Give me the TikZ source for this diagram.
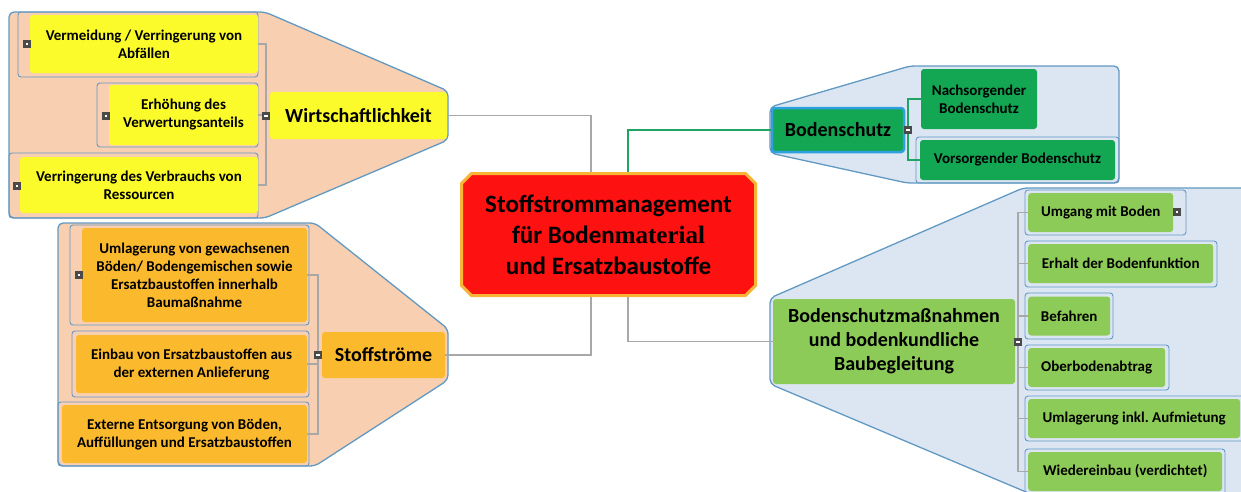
\documentclass[tikz,border=0pt]{standalone}
\usepackage{fontspec}
\setmainfont{Carlito}
\newfontfamily\cambria{Liberation Serif}
\usetikzlibrary{shapes.misc}

\definecolor{peach}{HTML}{F9CFB2}
\definecolor{paleblue}{HTML}{DCE6F2}
\definecolor{outline}{HTML}{6299C2}
\definecolor{boxyellow}{HTML}{FBFB2C}
\definecolor{boxorange}{HTML}{FBB92E}
\definecolor{darkgreen}{HTML}{13A653}
\definecolor{lightgreen}{HTML}{8CCB57}
\definecolor{rootred}{HTML}{FE1111}
\definecolor{rootrim}{HTML}{F8B535}
\definecolor{linkgray}{HTML}{A8A8A8}
\definecolor{linkgreen}{HTML}{1FA463}
\definecolor{markgray}{HTML}{4A4A4A}
\definecolor{rimblue}{HTML}{2E9FE0}

\begin{document}
\frenchspacing
\begin{tikzpicture}[x=1pt,y=-1pt,
  group/.style={fill=#1, draw=outline, line width=1.3pt, rounded corners=5pt},
  frame/.style={draw=outline, line width=0.9pt, rounded corners=3pt},
  size/.style 2 args={minimum width=#1, minimum height=#2},
  box/.style={rounded corners=3pt, inner sep=0pt, align=center,
    font=\bfseries\fontsize{15}{18}\selectfont},
  topic/.style={box, font=\bfseries\fontsize{20}{24}\selectfont},
  item/.style={box, fill=lightgreen, anchor=west, size={#1}{39pt}},
  link/.style={draw=linkgray, line width=1.4pt},
  marker/.style={rectangle, fill=markgray, minimum size=8pt, inner sep=0pt},
  plus/.style={marker, path picture={\fill[white]
    ([shift={(-1.4pt,-1.4pt)}]path picture bounding box.center) rectangle
    ([shift={(1.4pt,1.4pt)}]path picture bounding box.center);}},
  minus/.style={marker, path picture={\fill[white]
    ([shift={(-1.8pt,-0.7pt)}]path picture bounding box.center) rectangle
    ([shift={(1.8pt,0.7pt)}]path picture bounding box.center);}},
]

  \useasboundingbox (0,0) rectangle (1241,491);
  \clip (0,0) rectangle (1241,491);

  % Draw groups
  \draw[group=peach] (9,12) -- (265,12) -- (448,91) -- (448,140) -- (265,218) -- (9,218) -- cycle;
  \draw[group=peach] (58,223) -- (315,223) -- (448,329) -- (448,380) -- (315,466) -- (58,466) -- cycle;
  \draw[group=paleblue] (770,107) -- (910,66) -- (1119,66) -- (1119,183) -- (907,183) -- (770,153) -- cycle;
  \draw[group=paleblue] (770,298) -- (1023,188) -- (1250,188) -- (1250,500) -- (1045,500) -- (770,384) -- cycle;

  % Draw frames
  \draw[frame] (18,12) rectangle (258,77);
  \draw[frame] (97,83) rectangle (258,147);
  \draw[frame] (9,153) rectangle (258,218);
  \draw[frame] (70,225) rectangle (309,325);
  \draw[frame] (72,331) rectangle (309,397);
  \draw[frame] (58,402) rectangle (309,466);
  \draw[frame] (916,137) rectangle (1119,183);
  \draw[frame] (1025,190) rectangle (1186,235);
  \draw[frame] (1025,241) rectangle (1217,287);
  \draw[frame] (1025,293) rectangle (1113,339);
  \draw[frame] (1025,345) rectangle (1169,390);
  \draw[frame] (1025,396) rectangle (1250,441);
  \draw[frame] (1025,449) rectangle (1225,500);

  % Root
  \node[chamfered rectangle, chamfered rectangle xsep=5pt, chamfered rectangle ysep=5pt,
    fill=rootred, draw=rootrim, line width=3pt, size={294pt}{122pt}, inner sep=0pt,
    align=center, font=\bfseries\fontsize{25}{31}\selectfont] (root) at (608.5,234.5)
    {Stoffstrommanagement\\für Boden{\cambria material}\\und Ersatzbaustoffe};

  % Wirtschaftlichkeit
  \node[topic, fill=boxyellow, size={177pt}{47pt}] (wirt) at (358.5,115.5) {Wirtschaftlichkeit};
  \node[box, fill=boxyellow, size={228pt}{58pt}] (w1) at (144,44) {Vermeidung / Verringerung von\\Abfällen};
  \node[box, fill=boxyellow, size={149pt}{60pt}] (w2) at (183.5,115) {Erhöhung des\\Verwertungsanteils};
  \node[box, fill=boxyellow, size={238pt}{56pt}] (w3) at (139,185) {Verringerung des Verbrauchs von\\Ressourcen};

  % Stoffstroeme
  \node[topic, fill=boxorange, size={123pt}{46pt}] (stoff) at (383.5,355) {Stoffströme};
  \node[box, fill=boxorange, size={225pt}{94pt}] (s1) at (194.5,275)
    {Umlagerung von gewachsenen\\Böden/ Bodengemischen sowie\\Ersatzbaustoffen innerhalb\\Baumaßnahme};
  \node[box, fill=boxorange, size={231pt}{58pt}] (s2) at (191.5,364) {Einbau von Ersatzbaustoffen aus\\der externen Anlieferung};
  \node[box, fill=boxorange, size={245pt}{58pt}] (s3) at (184.5,434) {Externe Entsorgung von Böden,\\Auffüllungen und Ersatzbaustoffen};

  % Bodenschutz
  \node[topic, fill=darkgreen, draw=rimblue, line width=2.5pt, size={132pt}{44pt}] (boden) at (838,130) {Bodenschutz};
  \node[box, fill=darkgreen, size={116pt}{60pt}] (b1) at (979,99) {Nachsorgender\\Bodenschutz};
  \node[box, fill=darkgreen, size={195pt}{40pt}] (b2) at (1017.5,160) {Vorsorgender Bodenschutz};

  % Bodenschutzmassnahmen
  \node[topic, fill=lightgreen, size={242pt}{85pt}] (mass) at (894,341.5)
    {Bodenschutzmaßnahmen\\und bodenkundliche\\Baubegleitung};
  \node[item=145pt] (m1) at (1028,212.5) {Umgang mit Boden};
  \node[item=185pt] (m2) at (1028,263.5) {Erhalt der Bodenfunktion};
  \node[item=82pt] (m3) at (1028,316) {Befahren};
  \node[item=137pt] (m4) at (1028,367.5) {Oberbodenabtrag};
  \node[item=212pt] (m5) at (1028,418.5) {Umlagerung inkl. Aufmietung};
  \node[item=194pt] (m6) at (1028,471.5) {Wiedereinbau (verdichtet)};

  % Junctions
  \coordinate (jW) at (266,116);
  \coordinate (jS) at (318,355);
  \coordinate (jB) at (908,130);
  \coordinate (jM) at (1018,342);

  % Draw branches
  \draw[link] (w1.east) -| (jW) |- (w3.east);
  \draw[link] (w2.east) -- (w2.east -| jW);
  \draw[link] (s1.east) -| (jS) |- (s3.east);
  \draw[link] (s2.east) -- (s2.east -| jS);
  \draw[link, draw=linkgreen] (b1.west) -| (jB) |- (b2.west);
  \draw[link] (m1.west) -| (jM) |- (m6.west);
  \foreach \m in {m2,m3,m4,m5}
    \draw[link] (\m.west) -- (\m.west -| jM);

  % Draw links to root
  \draw[link] (wirt.east) -| ([xshift=-17.5pt]root.north);
  \draw[link, draw=linkgreen] (boden.west) -| ([xshift=19.5pt]root.north);
  \draw[link] (stoff.east) -| ([xshift=-17.5pt]root.south);
  \draw[link] (mass.west) -| ([xshift=19.5pt]root.south);

  % Markers
  \node[minus] (mw) at (jW) {};
  \node[minus] (ms) at (jS) {};
  \node[minus] (mb) at (jB) {};
  \node[minus] (mm) at (jM) {};
  \node[plus] (mw1) at (27,44) {};
  \node[plus] (mw2) at (106,116) {};
  \node[plus] (mw3) at (17,186) {};
  \node[plus] (ms1) at (79,275) {};
  \node[plus] (mm1) at (1177,212) {};
\end{tikzpicture}
\end{document}
